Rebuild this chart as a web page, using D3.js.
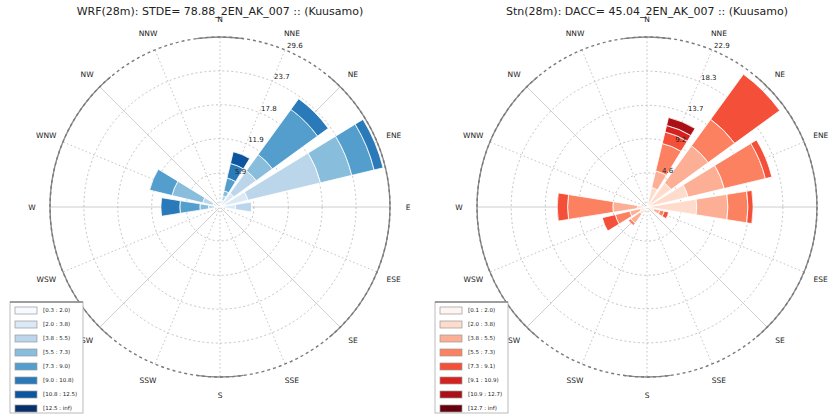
<!DOCTYPE html>
<html>
  <head>
    <title>Wind roses</title>
    <script src="https://d3js.org/d3.v7.min.js"></script>
    <style>
      body { margin: 0; background: #fff; }
      text { font-family: "DejaVu Sans", sans-serif; fill: #222; }
    </style>
  </head>
  <body>
    <script>
      var width = 830;
      var height = 417;

      // 16 compass sectors, clockwise from north
      var directions = ["N","NNE","NE","ENE","E","ESE","SE","SSE","S","SSW","SW","WSW","W","WNW","NW","NNW"];

      // frequency (%) per direction, one value per speed bin (8 bins)
      var wrfFreq = [
        [0,0,0,0,0,0,0,0],
        [0.3,0.9,0.8,0.9,2.3,2.6,2.1,0],
        [0.5,2.5,4.8,3.5,9.7,2.3,0,0],
        [1.0,4.0,13.0,5.6,4.0,1.6,0,0],
        [0.5,2.2,2.8,0,0,0,0,0],
        [0,0,0,0,0,0,0,0],
        [0,0,0,0,0,0,0,0],
        [0,0,0,0,0,0,0,0],
        [0,0,0,0,0,0,0,0],
        [0,0,0,0,0,0,0,0],
        [0,0,0,0,0,0,0,0],
        [0,0,0,0,0,0,0,0],
        [0.3,0.7,1.0,1.5,3.5,3.3,0,0],
        [0.3,1.0,1.8,5.5,4.0,0,0,0],
        [0,0,0,0,0,0,0,0],
        [0,0,0,0,0,0,0,0]
      ];
      var stnFreq = [
        [0,0,0,0,0,0,0,0],
        [0.3,2.4,2.3,3.8,1.6,0.9,1.1,0],
        [0.3,3.7,6.2,4.4,7.5,0,0,0],
        [0.3,5.4,5.0,5.7,0.9,0,0,0],
        [0.3,6.4,4.2,2.7,0.7,0,0,0],
        [0.2,0.8,0.8,0.6,0.6,0,0,0],
        [0,0,0,0,0,0,0,0],
        [0,0,0,0,0,0,0,0],
        [0,0,0,0,0,0,0,0],
        [0,0,0,0,0,0,0,0],
        [0.2,1.0,1.5,0.4,0,0,0,0],
        [0.2,0.8,1.4,2.0,1.8,0,0,0],
        [0.3,1.0,3.3,6.1,1.4,0,0,0],
        [0,0,0,0,0,0,0,0],
        [0,0,0,0,0,0,0,0],
        [0,0,0,0,0,0,0,0]
      ];

      var wrfTicks = [5.9, 11.9, 17.8, 23.7, 29.6];
      var stnTicks = [4.6, 9.2, 13.7, 18.3, 22.9];

      var wrfBins = ["[0.3 : 2.0)","[2.0 : 3.8)","[3.8 : 5.5)","[5.5 : 7.3)","[7.3 : 9.0)","[9.0 : 10.8)","[10.8 : 12.5)","[12.5 : inf)"];
      var stnBins = ["[0.1 : 2.0)","[2.0 : 3.8)","[3.8 : 5.5)","[5.5 : 7.3)","[7.3 : 9.1)","[9.1 : 10.9)","[10.9 : 12.7)","[12.7 : inf)"];

      var blues = ["#f7fbff","#dbe9f6","#bbd6eb","#88bedc","#549ecd","#2a7aba","#0c56a0","#08306b"];
      var reds = ["#fff5f0","#fedbcb","#fcaf94","#fc8161","#f44f39","#d52221","#aa1016","#67000d"];

      var svg = d3.select("body")
        .append("svg")
        .attr("width", width)
        .attr("height", height);

      var charts = [
        {title: "WRF(28m): STDE= 78.88_2EN_AK_007 :: (Kuusamo)", cx: 220, cy: 207, freq: wrfFreq, ticks: wrfTicks, bins: wrfBins, colors: blues, legendX: 10},
        {title: "Stn(28m): DACC= 45.04_2EN_AK_007 :: (Kuusamo)", cx: 647, cy: 207, freq: stnFreq, ticks: stnTicks, bins: stnBins, colors: reds, legendX: 435}
      ];

      var R = 170;
      var rad = Math.PI / 180;

      charts.forEach(function(c) {
        var g = svg.append("g").attr("transform", `translate(${c.cx},${c.cy})`);
        var rScale = d3.scaleLinear().domain([0, c.ticks[c.ticks.length - 1]]).range([0, R]);
        var angle = d3.scalePoint().domain(directions).range([0, 360 - 22.5]);

        // spokes
        directions.forEach(function(d, i) {
          var a = angle(d) * rad;
          var solid = (i % 2 == 0) && i != 0 && i != 8;
          g.append("line")
            .attr("x1", 0).attr("y1", 0)
            .attr("x2", R * Math.sin(a)).attr("y2", -R * Math.cos(a))
            .attr("stroke", solid ? "#c8c8c8" : "#b4b4b4")
            .attr("stroke-width", solid ? 0.9 : 0.8)
            .attr("stroke-dasharray", solid ? null : "1.5,2.5");
        });

        // dashed rings
        c.ticks.slice(0, -1).forEach(function(t) {
          g.append("circle")
            .attr("r", rScale(t))
            .attr("fill", "none")
            .attr("stroke", "#b4b4b4")
            .attr("stroke-width", 0.8)
            .attr("stroke-dasharray", "2,2.5");
        });

        // stacked bars
        var arc = d3.arc();
        c.freq.forEach(function(vals, i) {
          var a = angle(directions[i]) * rad;
          var cum = 0;
          vals.forEach(function(v, b) {
            if (v <= 0) return;
            g.append("path")
              .attr("d", arc({innerRadius: rScale(cum), outerRadius: rScale(cum + v),
                              startAngle: a - 9 * rad, endAngle: a + 9 * rad}))
              .attr("fill", c.colors[b])
              .attr("stroke", "#fff")
              .attr("stroke-width", 0.8);
            cum += v;
          });
        });

        // outer frame: solid where the spine shows, dashed elsewhere
        var outer = d3.arc().innerRadius(R).outerRadius(R);
        [[-8, 8], [40, 140], [172, 188], [220, 320]].forEach(function(s) {
          g.append("path")
            .attr("d", outer({startAngle: s[0] * rad, endAngle: s[1] * rad}))
            .attr("fill", "none").attr("stroke", "#8a8a8a").attr("stroke-width", 1.4);
        });
        g.append("circle")
          .attr("r", R)
          .attr("fill", "none")
          .attr("stroke", "#7a7a7a")
          .attr("stroke-width", 1.4)
          .attr("stroke-dasharray", "3,3");

        // radial tick labels along NNE
        c.ticks.forEach(function(t) {
          var a = 22.5 * rad;
          g.append("text")
            .attr("x", rScale(t) * Math.sin(a) + 2)
            .attr("y", -rScale(t) * Math.cos(a) - 2)
            .attr("font-size", "7px")
            .text(t.toFixed(1));
        });

        // compass labels
        directions.forEach(function(d) {
          var a = angle(d) * rad;
          g.append("text")
            .attr("x", 188 * Math.sin(a))
            .attr("y", -188 * Math.cos(a))
            .attr("dy", "0.35em")
            .attr("text-anchor", "middle")
            .attr("font-size", "7.5px")
            .text(d);
        });

        svg.append("text")
          .attr("x", c.cx)
          .attr("y", 15)
          .attr("text-anchor", "middle")
          .attr("font-size", "11px")
          .attr("fill", "#333")
          .text(c.title);

        // legend
        var lg = svg.append("g").attr("transform", `translate(${c.legendX},302)`);
        lg.append("rect")
          .attr("width", 73).attr("height", 111)
          .attr("fill", "#fff").attr("stroke", "#aaa").attr("stroke-width", 0.8);
        lg.append("line")
          .attr("x1", 0).attr("x2", 73).attr("y1", 0).attr("y2", 0)
          .attr("stroke", "#888").attr("stroke-width", 1.6);
        c.bins.forEach(function(label, b) {
          lg.append("rect")
            .attr("x", 5).attr("y", 5 + b * 14)
            .attr("width", 22).attr("height", 7)
            .attr("fill", c.colors[b])
            .attr("stroke", "#999").attr("stroke-width", 0.7);
          lg.append("text")
            .attr("x", 33).attr("y", 8.5 + b * 14)
            .attr("dy", "0.35em")
            .attr("font-size", "5.5px")
            .text(label);
        });
      });
    </script>
  </body>
</html>
